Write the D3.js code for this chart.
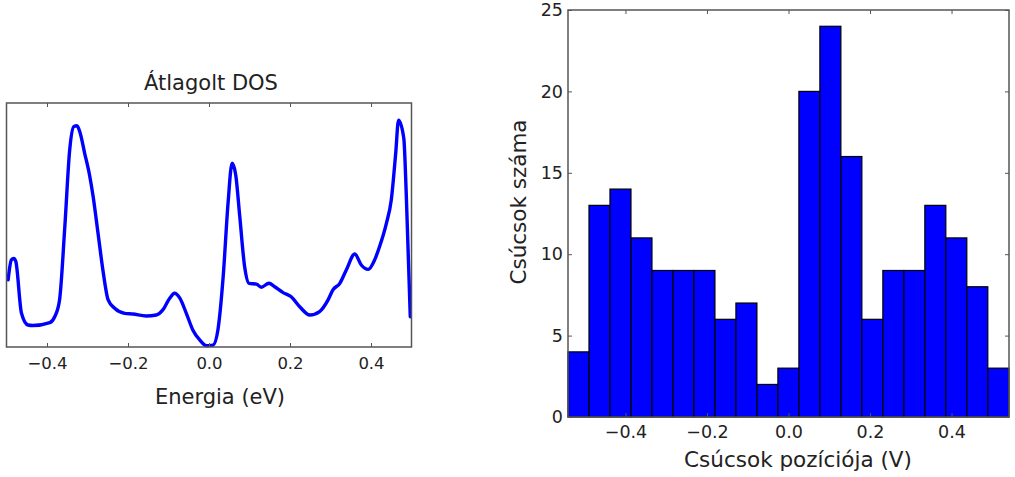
<!DOCTYPE html>
<html><head><meta charset="utf-8">
<script src="https://cdn.jsdelivr.net/npm/d3@7/dist/d3.min.js"></script>
<style>
html,body{margin:0;padding:0;background:#fff;}
svg{display:block;}
text{font-family:"DejaVu Sans",sans-serif;fill:#222;}
</style></head>
<body>
<svg id="c" width="1015" height="477"></svg>
<script>
// ---- Left panel: averaged DOS curve ----
const dosEnergy = [-0.496,-0.488,-0.482,-0.477,-0.463,-0.447,-0.435,-0.393,-0.381,-0.369,-0.356,-0.344,-0.334,-0.326,-0.319,-0.307,-0.295,-0.286,-0.274,-0.262,-0.249,-0.233,-0.208,-0.188,-0.155,-0.130,-0.114,-0.097,-0.085,-0.072,-0.056,-0.040,-0.023,-0.006,0.010,0.022,0.035,0.047,0.057,0.066,0.076,0.088,0.099,0.117,0.129,0.148,0.162,0.183,0.203,0.224,0.249,0.273,0.294,0.306,0.323,0.339,0.360,0.376,0.393,0.409,0.421,0.438,0.450,0.461,0.468,0.481,0.487,0.497];
const dosValue  = [0.275,0.357,0.363,0.350,0.138,0.090,0.088,0.100,0.124,0.193,0.493,0.807,0.903,0.907,0.882,0.794,0.705,0.616,0.466,0.316,0.193,0.159,0.138,0.135,0.127,0.131,0.152,0.200,0.220,0.200,0.138,0.070,0.029,0.005,0.008,0.070,0.288,0.589,0.753,0.705,0.534,0.329,0.261,0.258,0.245,0.261,0.247,0.223,0.206,0.165,0.131,0.145,0.193,0.234,0.261,0.316,0.381,0.336,0.318,0.357,0.411,0.507,0.602,0.794,0.930,0.855,0.630,0.124];
const dosTicks = [-0.4,-0.2,0.0,0.2,0.4];
const dosTickLabels = ["\u22120.4","\u22120.2","0.0","0.2","0.4"];

// ---- Right panel: histogram of peak positions ----
const binEdges = [-0.541,-0.4895,-0.438,-0.3865,-0.335,-0.2835,-0.232,-0.1805,-0.129,-0.0775,-0.026,0.0255,0.077,0.1285,0.180,0.2315,0.283,0.3345,0.386,0.4375,0.489,0.541];
const binCounts = [4,13,14,11,9,9,9,6,7,2,3,20,24,16,6,9,9,13,11,8,3];
const histXTicks = [-0.4,-0.2,0.0,0.2,0.4];
const histXTickLabels = ["\u22120.4","\u22120.2","0.0","0.2","0.4"];
const histYTicks = [0,5,10,15,20,25];

const svg = d3.select("#c");
const frameColor = "#555";

// ===== Left chart =====
{
  const x = d3.scaleLinear().domain([-0.5,0.5]).range([6.5,411.5]);
  const y = d3.scaleLinear().domain([0,1]).range([347,103]);
  const g = svg.append("g");
  const pts = dosEnergy.map((e,i)=>[e,dosValue[i]]);
  const line = d3.line().x(d=>x(d[0])).y(d=>y(d[1])).curve(d3.curveMonotoneX);
  g.append("path").attr("d",line(pts)).attr("fill","none")
    .attr("stroke","#0000ff").attr("stroke-width",3.4).attr("stroke-linejoin","round").attr("stroke-linecap","round");
  g.append("rect").attr("x",x.range()[0]).attr("y",y.range()[1])
    .attr("width",x.range()[1]-x.range()[0]).attr("height",y.range()[0]-y.range()[1])
    .attr("fill","none").attr("stroke",frameColor).attr("stroke-width",1.5);
  const axB = d3.axisBottom(x).tickValues(dosTicks).tickSizeInner(-4).tickSizeOuter(0).tickPadding(10)
    .tickFormat((d,i)=>dosTickLabels[i]);
  const gb = g.append("g").attr("transform",`translate(0,${y.range()[0]})`).call(axB);
  gb.select(".domain").remove();
  gb.selectAll(".tick line").attr("stroke",frameColor);
  gb.selectAll(".tick text").style("font-family","DejaVu Sans").style("font-size","16.5px").attr("fill","#222");
  const axT = d3.axisTop(x).tickValues(dosTicks).tickSizeInner(-4).tickSizeOuter(0).tickFormat("");
  const gt = g.append("g").attr("transform",`translate(0,${y.range()[1]})`).call(axT);
  gt.select(".domain").remove();
  gt.selectAll(".tick line").attr("stroke",frameColor);
  g.append("text").attr("x",211).attr("y",90).attr("text-anchor","middle")
    .style("font-size","21px").text("Átlagolt DOS");
  g.append("text").attr("x",220).attr("y",404).attr("text-anchor","middle")
    .style("font-size","21px").text("Energia (eV)");
}

// ===== Right chart =====
{
  const x = d3.scaleLinear().domain([-0.541,0.541]).range([568,1009]);
  const y = d3.scaleLinear().domain([0,25]).range([417,10]);
  const g = svg.append("g");
  const bars = binCounts.map((c,i)=>({x0:binEdges[i],x1:binEdges[i+1],c}));
  g.selectAll("rect.bar").data(bars).enter().append("rect").attr("class","bar")
    .attr("x",d=>x(d.x0)).attr("width",d=>x(d.x1)-x(d.x0))
    .attr("y",d=>y(d.c)).attr("height",d=>y(0)-y(d.c))
    .attr("fill","#0000ff").attr("stroke","#000").attr("stroke-width",1.2);
  g.append("rect").attr("x",568).attr("y",10).attr("width",441).attr("height",407)
    .attr("fill","none").attr("stroke",frameColor).attr("stroke-width",1.5);
  const tickStyle = sel=>{ sel.select(".domain").remove(); sel.selectAll(".tick line").attr("stroke",frameColor);
    sel.selectAll(".tick text").style("font-family","DejaVu Sans").style("font-size","17.5px").attr("fill","#222"); };
  const gb = g.append("g").attr("transform","translate(0,417)")
    .call(d3.axisBottom(x).tickValues(histXTicks).tickSizeInner(-4).tickSizeOuter(0).tickPadding(9)
      .tickFormat((d,i)=>histXTickLabels[i]));
  tickStyle(gb);
  const gt = g.append("g").attr("transform","translate(0,10)")
    .call(d3.axisTop(x).tickValues(histXTicks).tickSizeInner(-4).tickSizeOuter(0).tickFormat(""));
  tickStyle(gt);
  const gl = g.append("g").attr("transform","translate(568,0)")
    .call(d3.axisLeft(y).tickValues(histYTicks).tickSizeInner(-4).tickSizeOuter(0).tickPadding(5).tickFormat(d3.format("d")));
  tickStyle(gl);
  const gr = g.append("g").attr("transform","translate(1009,0)")
    .call(d3.axisRight(y).tickValues(histYTicks).tickSizeInner(-4).tickSizeOuter(0).tickFormat(""));
  tickStyle(gr);
  g.append("text").attr("x",798).attr("y",467).attr("text-anchor","middle")
    .style("font-size","21.5px").text("Csúcsok pozíciója (V)");
  g.append("text").attr("transform","translate(526,202) rotate(-90)").attr("text-anchor","middle")
    .style("font-size","21.5px").text("Csúcsok száma");
}
</script>
</body></html>
